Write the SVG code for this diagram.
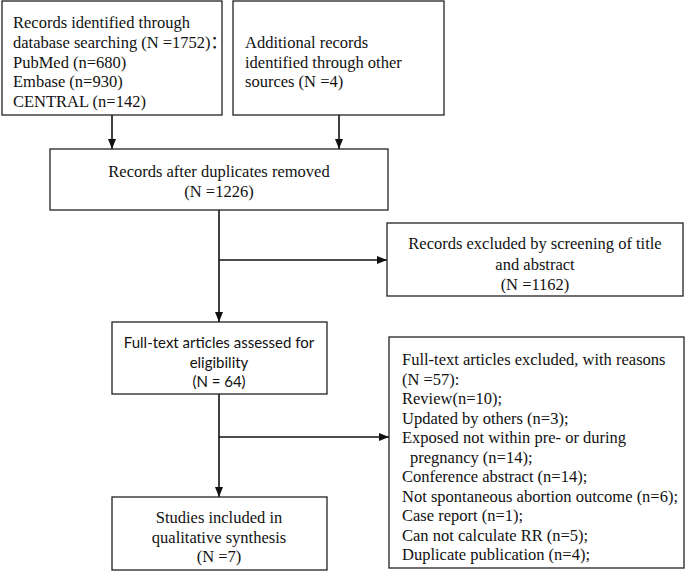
<svg xmlns="http://www.w3.org/2000/svg" width="685" height="572" viewBox="0 0 685 572">
<defs>
<style>
.box{fill:#fff;stroke:#222;stroke-width:1.3}
.t{font-family:"Liberation Serif","Times New Roman","Noto Sans CJK SC",serif;font-size:16.5px;fill:#111}
.s{font-family:Lato,"Open Sans",sans-serif;font-size:15px;fill:#111}
.c{text-anchor:middle}
.ln{stroke:#111;stroke-width:1.6;fill:none}
</style>
<marker id="ah" viewBox="0 0 10 10" refX="10" refY="5" markerWidth="10" markerHeight="10" markerUnits="userSpaceOnUse" orient="auto">
<path d="M0,1 L10,5 L0,9 Z" fill="#111"/>
</marker>
</defs>
<rect width="685" height="572" fill="#fff"/>
<g id="connectors">
<line class="ln" x1="112" y1="115" x2="112" y2="149" marker-end="url(#ah)"/>
<line class="ln" x1="339" y1="115" x2="339" y2="149" marker-end="url(#ah)"/>
<line class="ln" x1="219" y1="210" x2="219" y2="322" marker-end="url(#ah)"/>
<line class="ln" x1="219" y1="260" x2="387" y2="260" marker-end="url(#ah)"/>
<line class="ln" x1="219" y1="394" x2="219" y2="497" marker-end="url(#ah)"/>
<line class="ln" x1="219" y1="437" x2="389" y2="437" marker-end="url(#ah)"/>
</g>
<g id="n1">
<rect class="box" x="2" y="1" width="220" height="114"/>
<text class="t" x="13" y="28">Records identified through</text>
<text class="t" x="13" y="48">database searching (N =1752)：</text>
<text class="t" x="13" y="68">PubMed (n=680)</text>
<text class="t" x="13" y="87">Embase (n=930)</text>
<text class="t" x="13" y="107">CENTRAL (n=142)</text>
</g>
<g id="n2">
<rect class="box" x="233" y="1" width="211" height="114"/>
<text class="t" x="245" y="48">Additional records</text>
<text class="t" x="245" y="68">identified through other</text>
<text class="t" x="245" y="87">sources (N =4)</text>
</g>
<g id="n3">
<rect class="box" x="50" y="149" width="338" height="61"/>
<text class="t c" x="219" y="177">Records after duplicates removed</text>
<text class="t c" x="219" y="197">(N =1226)</text>
</g>
<g id="n4">
<rect class="box" x="387" y="223" width="296" height="73"/>
<text class="t c" x="535" y="249">Records excluded by screening of title</text>
<text class="t c" x="535" y="270">and abstract</text>
<text class="t c" x="535" y="290">(N =1162)</text>
</g>
<g id="n5">
<rect class="box" x="112" y="322" width="215" height="72"/>
<text class="s c" x="219" y="348">Full-text articles assessed for</text>
<text class="s c" x="219" y="368">eligibility</text>
<text class="s c" x="219" y="387">(N = 64)</text>
</g>
<g id="n6">
<rect class="box" x="112" y="497" width="215" height="73"/>
<text class="t c" x="219" y="523">Studies included in</text>
<text class="t c" x="219" y="543">qualitative synthesis</text>
<text class="t c" x="219" y="562">(N =7)</text>
</g>
<g id="n7">
<rect class="box" x="389" y="337" width="295" height="231"/>
<text class="t" x="402" y="365">Full-text articles excluded, with reasons</text>
<text class="t" x="402" y="384.5">(N =57):</text>
<text class="t" x="402" y="404">Review(n=10);</text>
<text class="t" x="402" y="423.5">Updated by others (n=3);</text>
<text class="t" x="402" y="443">Exposed not within pre- or during</text>
<text class="t" x="410" y="462.5">pregnancy (n=14);</text>
<text class="t" x="402" y="482">Conference abstract (n=14);</text>
<text class="t" x="402" y="501.5">Not spontaneous abortion outcome (n=6);</text>
<text class="t" x="402" y="521">Case report (n=1);</text>
<text class="t" x="402" y="540.5">Can not calculate RR (n=5);</text>
<text class="t" x="402" y="560">Duplicate publication (n=4);</text>
</g>
</svg>
